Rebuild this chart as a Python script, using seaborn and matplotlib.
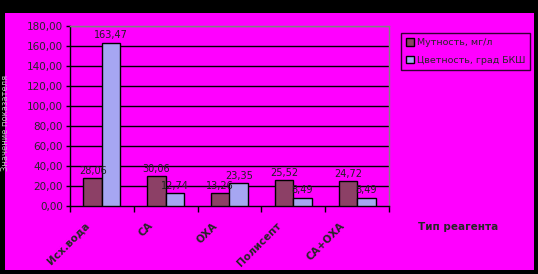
import matplotlib
matplotlib.use("Agg")
import matplotlib.pyplot as plt
import matplotlib.patches as mpatches
from matplotlib.transforms import ScaledTranslation
import seaborn as sns
import pandas as pd

categories = ["Исх.вода", "СА", "ОХА", "Полисепт", "СА+ОХА"]
turbidity = [28.06, 30.06, 13.26, 25.52, 24.72]
colour = [163.47, 12.74, 23.35, 8.49, 8.49]
series_names = ["Мутность, мг/л", "Цветность, град БКШ"]
y_ticks = [0, 20, 40, 60, 80, 100, 120, 140, 160, 180]

df = pd.DataFrame({
    "cat": categories * 2,
    "val": turbidity + colour,
    "series": [series_names[0]] * len(categories) + [series_names[1]] * len(categories),
})

sns.set_style("white")
plt.rcParams['font.family'] = ['DejaVu Sans']

MAGENTA = "#FF00FF"
fig = plt.figure(figsize=(5.38, 2.74), dpi=100, facecolor="black")
fig.patches.append(mpatches.Rectangle((5/538, 4/274), 529/538, 257/274,
                                      transform=fig.transFigure, facecolor=MAGENTA,
                                      edgecolor="none", zorder=-10))
ax = fig.add_axes([70/538, 68/274, 319/538, 180/274])
ax.set_facecolor(MAGENTA)

sns.barplot(data=df, x="cat", y="val", hue="series", order=categories,
            hue_order=series_names, palette=["#993366", "#9999FF"],
            width=0.58, edgecolor="black", linewidth=1, ax=ax, legend=True, zorder=3)

ax.set_ylim(0, 180)
ax.set_xlim(-0.5, len(categories) - 0.5)
ax.set_yticks(y_ticks)
ax.set_yticklabels([f"{v:.2f}".replace(".", ",") for v in y_ticks], fontsize=7.5)
for v in y_ticks[1:-1]:
    ax.axhline(v, color="black", lw=1, zorder=1)
ax.axhline(180, color="#808080", lw=1, zorder=1)

for s in ["top", "right"]:
    ax.spines[s].set_color("#808080")
    ax.spines[s].set_linewidth(1)
for s in ["left", "bottom"]:
    ax.spines[s].set_color("black")
    ax.spines[s].set_linewidth(1)

ax.tick_params(axis="y", length=3, width=1, color="black", direction="out", left=True, pad=2)
ax.set_xticks([i - 0.5 for i in range(len(categories) + 1)], minor=True)
ax.tick_params(axis="x", which="minor", length=4, width=1, color="black", bottom=True)
ax.set_xticks(range(len(categories)))
ax.set_xticklabels(categories, rotation=45, ha="right", va="center",
                   rotation_mode="anchor", fontsize=7.5, fontweight="bold")
ax.tick_params(axis="x", which="major", length=0, pad=13)
for lbl in ax.get_xticklabels():
    lbl.set_transform(lbl.get_transform() + ScaledTranslation(-14/100, 0, fig.dpi_scale_trans))

ax.set_xlabel("")
ax.set_ylabel("")

for cont in ax.containers:
    ax.bar_label(cont, labels=[f"{v:.2f}".replace(".", ",") for v in cont.datavalues],
                 fontsize=7, padding=1.5, color="#202020")

leg = ax.legend(loc="upper left", bbox_to_anchor=(401/538, 241/274),
                bbox_transform=fig.transFigure, frameon=True, fontsize=6.8,
                handlelength=0.8, handleheight=0.8, handletextpad=0.3,
                borderpad=0.55, labelspacing=0.9, fancybox=False, borderaxespad=0)
leg.get_frame().set_facecolor(MAGENTA)
leg.get_frame().set_edgecolor("black")
leg.get_frame().set_linewidth(1)

fig.text(418/538, (274-227)/274, "Тип реагента", fontsize=7.5, fontweight="bold",
         va="center", ha="left")
fig.text(6/538, 0.55, "Значение показателя", rotation=90, fontsize=6,
         color="#C0C0C0", va="center", ha="center")

fig.savefig("out.png", dpi=100, facecolor=fig.get_facecolor())
